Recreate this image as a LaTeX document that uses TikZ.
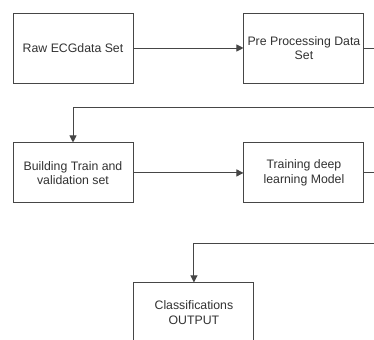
\documentclass[tikz,border=0pt]{standalone}
\usepackage{fontspec}
\setmainfont{Liberation Sans}
\usetikzlibrary{positioning,arrows.meta,calc}
\definecolor{boxline}{RGB}{70,70,70}
\definecolor{textgray}{RGB}{50,50,50}

\begin{document}
\begin{tikzpicture}[
  stepbox/.style={draw=boxline, line width=0.8pt, fill=white,
    minimum width=3.6cm, minimum height=2.1cm, inner sep=2pt,
    font=\fontsize{10.5}{12.5}\selectfont, text=textgray, align=center},
  lowbox/.style={stepbox, minimum height=1.8cm},
  arr/.style={-{Triangle[length=6pt,width=6pt]}, line width=0.8pt, boxline},
]
  \clip (0,0) rectangle (11.22,-10.2);
  \fill[white] (0,0) rectangle (11.22,-10.2);

  \node[stepbox] (raw) at (2.19,-1.44) {Raw ECGdata Set};
  \node[stepbox, right=3.3cm of raw] (prep) {Pre Processing Data\\Set};
  \node[lowbox, below=1.77cm of raw] (build) {Building Train and\\validation set};
  \node[lowbox, right=3.3cm of build] (train) {Training deep\\learning Model};
  \node[lowbox, below right=2.37cm and 0cm of build] (out) {Classifications\\OUTPUT};

  \draw[arr] (raw) -- (prep);
  \draw[arr] (prep.east) -- ++(1,0) |- ($(build.north)+(0,1.05)$) -- (build.north);
  \draw[arr] (build) -- (train);
  \draw[arr] (train.east) -- ++(1,0) |- ($(out.north)+(0,1.17)$) -- (out.north);
\end{tikzpicture}
\end{document}
